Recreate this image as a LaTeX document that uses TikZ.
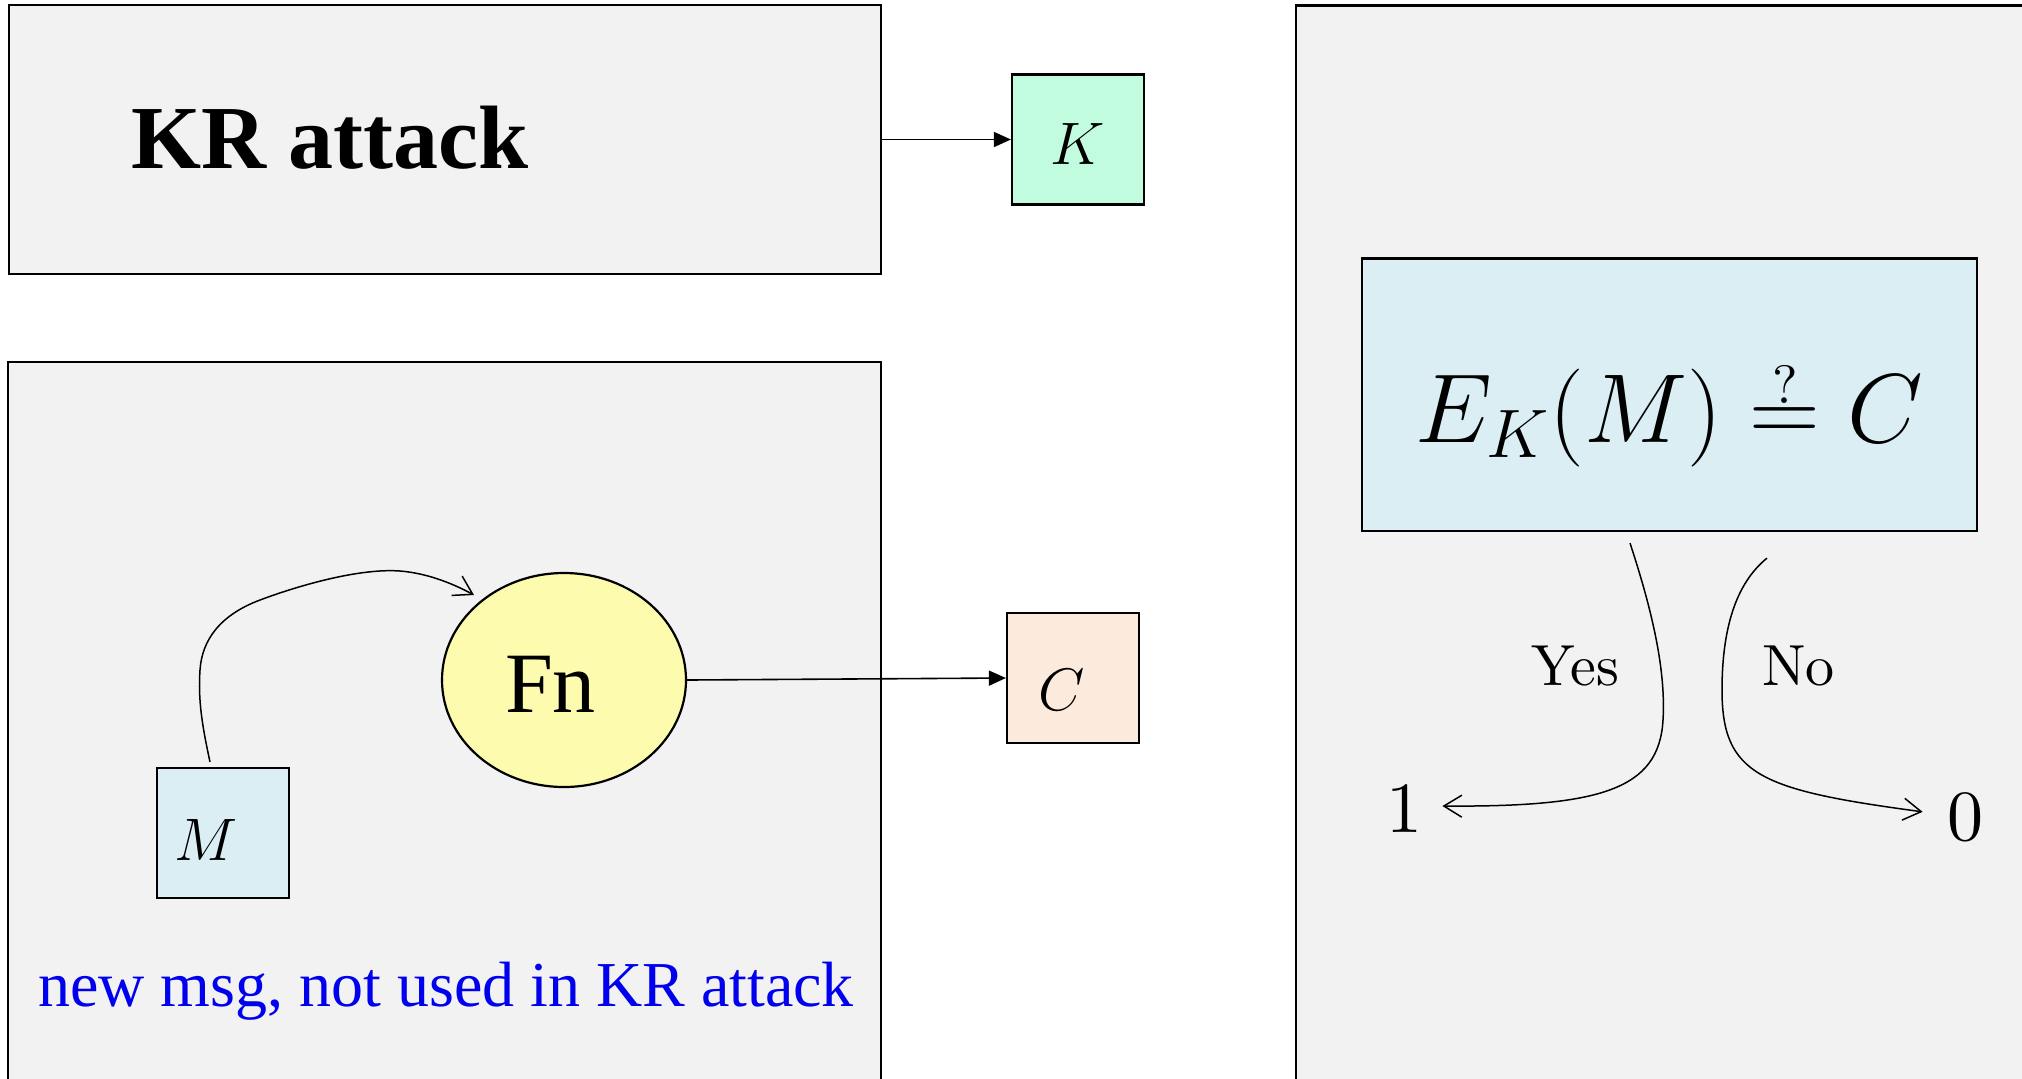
\documentclass[tikz,border=0pt]{standalone}
\usepackage{fix-cm}
\usepackage{fontspec}
\usetikzlibrary{arrows.meta,calc,shapes.geometric}
\newfontfamily\slidefont{Liberation Serif}
\newfontfamily\lmten{lmroman10-regular.otf}
\definecolor{panelgray}{HTML}{F2F2F2}
\definecolor{keygreen}{HTML}{C2FCDF}
\definecolor{cipherpeach}{HTML}{FCEADC}
\definecolor{msgblue}{HTML}{DAEEF3}
\definecolor{fnyellow}{HTML}{FDFBAD}
\definecolor{notetext}{HTML}{0000EE}
\begin{document}
\begin{tikzpicture}[x=0.5pt,y=-0.5pt,
  panel/.style={draw=black,line width=1.1pt,fill=panelgray,inner sep=0pt},
  valbox/.style={draw=black,line width=1.1pt,inner sep=0pt,
    minimum width=66pt,minimum height=65pt,
    font=\fontsize{30pt}{36pt}\selectfont,text depth=0pt},
  feed/.style={line width=0.8pt,-{Triangle[length=8.5pt,width=7.5pt]}},
  flow/.style={line width=0.75pt,-{Straight Barb[length=9pt,width=11pt]}},
  lmlabel/.style={anchor=base,inner sep=0pt,font=\lmten\fontsize{29pt}{35pt}\selectfont},
  bit/.style={anchor=base,font=\lmten\fontsize{36pt}{43pt}\selectfont}]

\clip (0,0) rectangle (2022,1078);
\fill[white] (0,0) rectangle (2022,1078);

% three panels
\node[panel,minimum width=436pt,minimum height=134.5pt] (kr) at (445,139.5) {};
\node[panel,minimum width=436.5pt,minimum height=374pt] (game) at (444.5,736) {};
\node[panel,minimum width=407pt,minimum height=552.25pt] (check) at (1703,557.75) {};

% key-recovery panel
\node[anchor=base,inner sep=0pt,font=\slidefont\bfseries\fontsize{45pt}{54pt}\selectfont]
  (krtitle) at (330,168) {KR attack};
\node[valbox,fill=keygreen,text height=24.5pt] (k) at (1078,139.5) {$K$};

% encryption of a fresh message
\node[ellipse,draw=black,line width=1.1pt,fill=fnyellow,inner sep=0pt,
  minimum width=122pt,minimum height=107pt,
  font=\slidefont\fontsize{43pt}{52pt}\selectfont,
  text height=32pt,text depth=0pt,text width=59pt,align=left] (fn) at (564,680) {Fn};
\node[valbox,fill=msgblue,text height=27pt,text width=49pt,align=left] (m) at (223,833) {$M$};
\node[valbox,fill=cipherpeach,text height=32pt,text width=35pt,align=left] (c) at (1073,678) {$C$};
\node[anchor=base,inner sep=0pt,text=notetext,font=\slidefont\fontsize{32pt}{38pt}\selectfont]
  (note) at (446,1006) {new msg, not used in KR attack};

% verification
\node[draw=black,line width=1.1pt,fill=msgblue,inner sep=0pt,
  minimum width=307.5pt,minimum height=136.25pt,
  font=\fontsize{49pt}{58pt}\selectfont,text height=48pt,text depth=0pt]
  (eq) at (1669.5,394.75)
  {$E_K(M) \stackrel{\mbox{\lmten\fontsize{27pt}{30pt}\selectfont ?}}{=} C$};
\node[lmlabel] (yes) at (1575.5,685) {Yes};
\node[lmlabel] (no) at (1798.5,685) {No};
\node[bit,inner sep=10pt] (one) at (1404,832) {1};
\node[bit,inner sep=12pt] (zero) at (1965,840) {0};

% connectors
\draw[feed] (kr.east) -- (k.west);
\draw[feed] (fn.east) -- (c.west);

\coordinate (mtop) at ($(m.north)+(-13,-5)$);
\coordinate (fnin) at ($(fn.center)+(-90,-85)$);
\draw[flow] (mtop) .. controls (202,725) and (198,700) .. (200,670)
  .. controls (202,640) and (220,615) .. (260,600)
  .. controls (300,585) and (360,568) .. (400,571)
  .. controls (425,573) and (450,582) .. (fnin);

\coordinate (yesstart) at ($(eq.south)+(-39.5,11)$);
\coordinate (nostart) at ($(eq.south)+(97.5,26)$);
\draw[flow] (yesstart) .. controls (1652,610) and (1666,670) .. (1663,720)
  .. controls (1659,790) and (1600,807) .. ([yshift=1pt]one.east);
\draw[flow] (nostart) .. controls (1740,580) and (1722,620) .. (1722,690)
  .. controls (1722,775) and (1760,790) .. ([yshift=2.5pt]zero.west);
\end{tikzpicture}
\end{document}
